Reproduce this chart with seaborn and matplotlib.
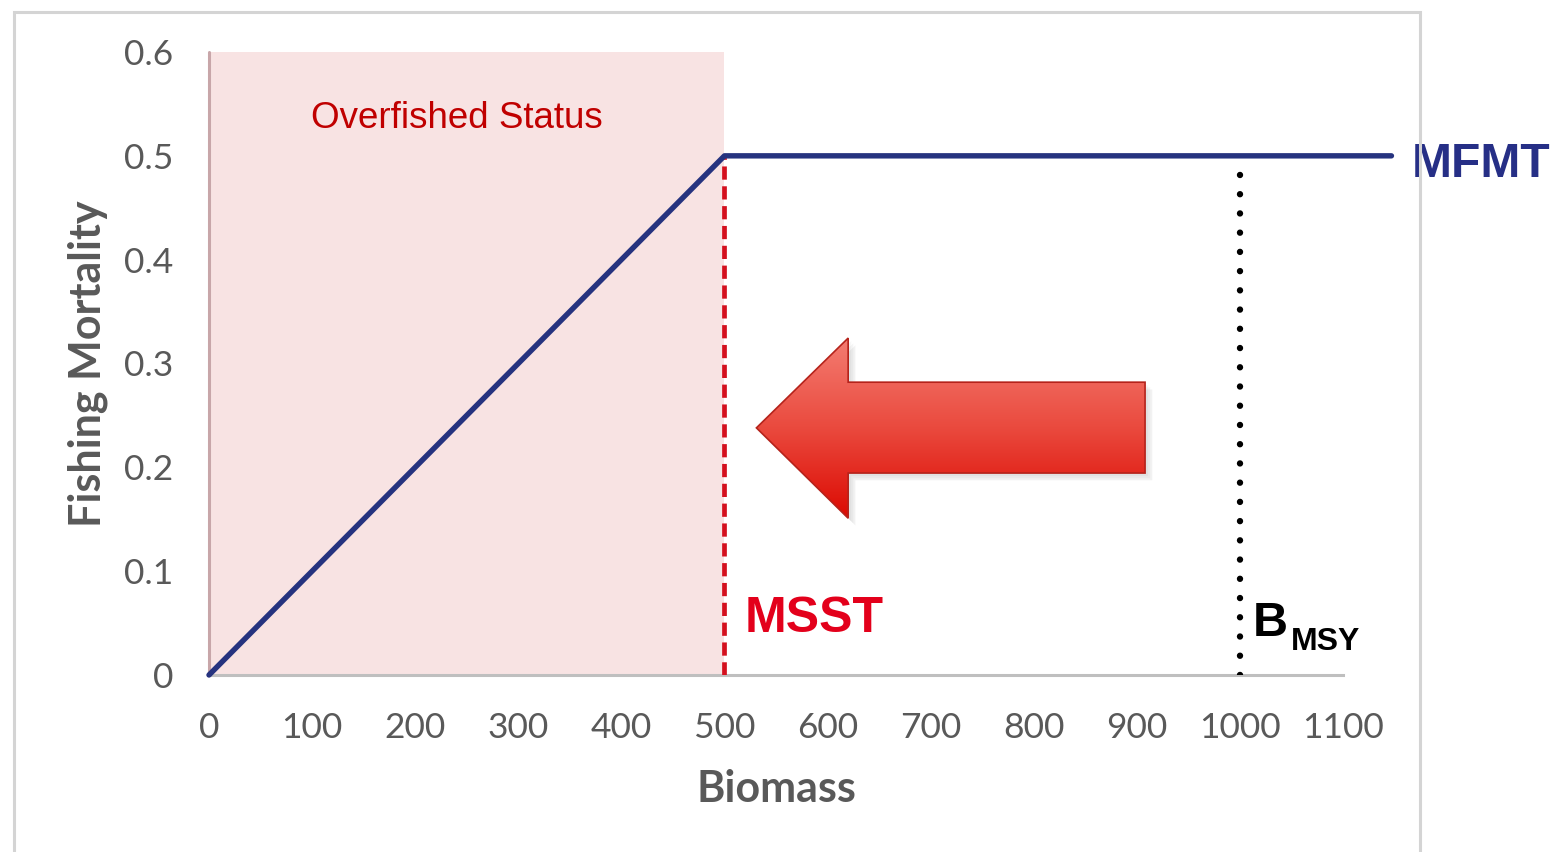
import numpy as np
import matplotlib
matplotlib.use("Agg")
import matplotlib.pyplot as plt
import seaborn as sns
import pandas as pd
from matplotlib.patches import Polygon, Rectangle
from matplotlib.colors import LinearSegmentedColormap

# Harvest control rule: fishing mortality vs. biomass
biomass = [0, 500, 1147]
fishing_mortality = [0.0, 0.5, 0.5]

msst = 500          # minimum stock size threshold
bmsy = 1000         # biomass at maximum sustainable yield
bmsy_line_top = 0.49
overfished_zone = (0, 500)

x_ticks = [0, 100, 200, 300, 400, 500, 600, 700, 800, 900, 1000, 1100]
y_ticks = [0.0, 0.1, 0.2, 0.3, 0.4, 0.5, 0.6]
y_tick_labels = ["0", "0.1", "0.2", "0.3", "0.4", "0.5", "0.6"]

df = pd.DataFrame({"Biomass": biomass, "Fishing Mortality": fishing_mortality})

sns.set_theme(style="white")
plt.rcParams["font.family"] = ["Lato", "DejaVu Sans"]

W, H = 1557, 852
fig = plt.figure(figsize=(W / 100, H / 100), dpi=100)
ax = fig.add_axes([209 / W, 1 - 675 / H, (1343 - 209) / W, (675 - 52) / H])
ax.set_xlim(0, 1100)
ax.set_ylim(0, 0.6)

# outer chart frame
fig.patches.append(Rectangle((14 / W, -0.05), (1420 - 14) / W, 1.05 - 12 / H,
                             transform=fig.transFigure, fill=False,
                             edgecolor="#d4d4d4", linewidth=2.2, zorder=0))

# overfished zone shading
ax.add_patch(Rectangle((overfished_zone[0], 0), overfished_zone[1] - overfished_zone[0], 0.6,
                       facecolor="#f8e3e3", edgecolor="none", zorder=0))
ax.plot([overfished_zone[0], overfished_zone[0]], [0, 0.6], color="#c8a6a9", lw=2.2,
        zorder=1, clip_on=False)

sans = ["Liberation Sans", "DejaVu Sans"]
ax.text(240, 0.536, "Overfished Status", color="#c00000", fontsize=26.5,
        ha="center", va="center", family=sans)

# threshold lines
ax.plot([msst, msst], [0, 0.5], color="#d4101e", lw=3.4, ls=(0, (2.8, 1.4)), zorder=3)
ax.plot([bmsy, bmsy], [0, bmsy_line_top], color="black", lw=4.6,
        ls=(0, (0.01, 3.0)), dash_capstyle="round", zorder=3)

# control rule line
sns.lineplot(data=df, x="Biomass", y="Fishing Mortality", ax=ax, color="#26337f",
             lw=3.9, zorder=4, clip_on=False)

# block arrow pointing toward MSST with vertical gradient
arrow_pts = np.array([[531, 0.238], [620, 0.3245], [620, 0.282], [908, 0.282],
                      [908, 0.1945], [620, 0.1945], [620, 0.151]])
for k, a in enumerate([0.06, 0.08, 0.10]):
    off = np.array([3 + 2 * k, -0.003 - 0.002 * k])
    ax.add_patch(Polygon(arrow_pts + off, closed=True, facecolor="#808080",
                         edgecolor="none", alpha=a, zorder=4))
arrow = Polygon(arrow_pts, closed=True, facecolor="none", edgecolor="#b5231b",
                lw=1.2, zorder=6)
ax.add_patch(arrow)
cmap = LinearSegmentedColormap.from_list("arrow", ["#dc0a02", "#ea4a3e", "#f47d72"])
grad = np.linspace(0, 1, 256).reshape(-1, 1)
img = ax.imshow(grad, cmap=cmap, origin="lower", aspect="auto",
                extent=[arrow_pts[:, 0].min(), arrow_pts[:, 0].max(),
                        arrow_pts[:, 1].min(), arrow_pts[:, 1].max()], zorder=5)
img.set_clip_path(arrow)
ax.set_xlim(0, 1100)
ax.set_ylim(0, 0.6)

# labels on lines
ax.text(520, 0.054, "MSST", color="#e3001b", fontsize=36, fontweight="bold",
        ha="left", va="center", family=sans)
ax.text(1012, 0.05, "B", color="black", fontsize=35, fontweight="bold",
        ha="left", va="center", family=sans)
ax.text(1049, 0.032, "MSY", color="black", fontsize=23, fontweight="bold",
        ha="left", va="center", family=sans)
ax.text(1167, 0.492, "MFMT", color="#262f86", fontsize=34.5, fontweight="bold",
        ha="left", va="center", family=sans, clip_on=False)

# axes styling
for side in ["top", "right", "left"]:
    ax.spines[side].set_visible(False)
ax.spines["bottom"].set_color("#bfbfbf")
ax.spines["bottom"].set_linewidth(2.2)
ax.spines["bottom"].set_zorder(2)

ax.set_xticks(x_ticks)
ax.set_xticklabels([str(v) for v in x_ticks])
ax.set_yticks(y_ticks)
ax.set_yticklabels(y_tick_labels)
ax.tick_params(axis="both", length=0, labelsize=25.5, labelcolor="#595959")
ax.tick_params(axis="x", pad=27)
ax.tick_params(axis="y", pad=26)
ax.grid(False)

ax.set_xlabel("Biomass", fontsize=31, fontweight="bold", color="#595959", labelpad=18)
ax.set_ylabel("Fishing Mortality", fontsize=31, fontweight="bold", color="#595959",
              labelpad=11)

fig.savefig("out.png", dpi=100, facecolor="white")
